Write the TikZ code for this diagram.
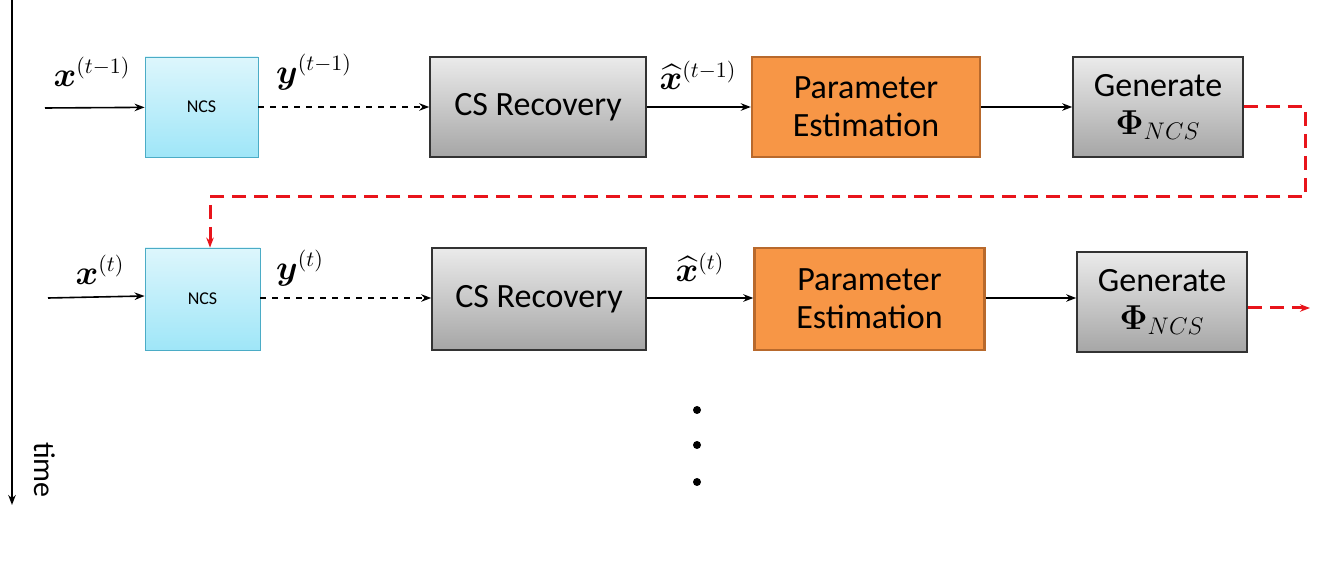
\documentclass[tikz,border=0pt]{standalone}
\usepackage{fontspec}
\setmainfont{Carlito}
\usepackage{amsmath,bm}
\usetikzlibrary{arrows.meta,positioning}
\definecolor{ncstop}{HTML}{DDF6FC}
\definecolor{ncsbot}{HTML}{9FE6F8}
\definecolor{ncsline}{HTML}{4BACC6}
\definecolor{pefill}{HTML}{F79646}
\definecolor{peline}{HTML}{B8692C}
\definecolor{redline}{HTML}{E8141B}
\tikzset{
  ncs/.style={draw=ncsline, top color=ncstop, bottom color=ncsbot, minimum width=57pt, minimum height=50pt, font=\small},
  grey/.style={draw=black!80, top color=black!8, bottom color=black!35, thick, align=center, font=\fontsize{17}{19}\selectfont},
  pe/.style={draw=peline, fill=pefill, very thick, align=center, font=\fontsize{17}{19}\selectfont},
  lbl/.style={font=\fontsize{16}{18}\selectfont, inner sep=1pt},
  flow/.style={-{Stealth[length=5pt]}, thick},
  dflow/.style={flow, dashed},
  loop/.style={-{Stealth[length=5pt]}, redline, line width=1.5pt, dash pattern=on 7pt off 4pt}
}
\begin{document}
\begin{tikzpicture}[x=0.5pt,y=-0.5pt]
\useasboundingbox (0,0) rectangle (1329,571);
% time axis
\coordinate (t0) at (12,0);
\coordinate (t1) at (12,505);
\draw[flow] (t0) -- (t1);
\node[rotate=-90, font=\fontsize{15}{17}\selectfont] (time) at (45,470) {time};
% row t-1
\coordinate (in1) at (45,108);
\node[ncs, minimum width=56.5pt] (ncs1) at (201.5,107) {NCS};
\node[grey, minimum width=108pt, minimum height=50pt] (cs1) at (538,107) {CS Recovery};
\node[pe, minimum width=114pt, minimum height=50pt] (pe1) at (866,107) {Parameter\\Estimation};
\node[grey, minimum width=85pt, minimum height=50pt] (gen1) at (1158,107) {Generate\\$\bm{\Phi}_{NCS}$};
\draw[flow] (in1) -- (ncs1);
\draw[dflow] (ncs1) -- (cs1);
\draw[flow] (cs1) -- (pe1);
\draw[flow] (pe1) -- (gen1);
\node[lbl] (x1) at (92,72) {$\bm{x}^{(t-1)}$};
\node[lbl] (y1) at (314,72) {$\bm{y}^{(t-1)}$};
\node[lbl, anchor=south] (xh1) at (698,92) {$\widehat{\bm{x}}^{(t-1)}$};
% row t
\coordinate (in2) at (48,298);
\node[ncs, minimum width=57.5pt, minimum height=51pt] (ncs2) at (202.5,299) {NCS};
\node[grey, minimum width=107pt, minimum height=51pt] (cs2) at (539,299) {CS Recovery};
\node[pe, minimum width=115pt, minimum height=51pt] (pe2) at (869.5,299) {Parameter\\Estimation};
\node[grey, minimum width=85pt, minimum height=50pt] (gen2) at (1162,302) {Generate\\$\bm{\Phi}_{NCS}$};
\draw[flow] (in2) -- (ncs2.west |- 0,296);
\draw[dflow] (ncs2.east |- 0,298) -- (cs2.west |- 0,298);
\draw[flow] (cs2.east |- 0,298) -- (pe2.west |- 0,298);
\draw[flow] (pe2.east |- 0,298) -- (gen2.west |- 0,298);
\node[lbl] (x2) at (100,270) {$\bm{x}^{(t)}$};
\node[lbl] (y2) at (300,268) {$\bm{y}^{(t)}$};
\node[lbl, anchor=south] (xh2) at (700,284) {$\widehat{\bm{x}}^{(t)}$};
% feedback
\coordinate (c1) at (1305,107);
\coordinate (c2) at (1305,197);
\coordinate (c3) at (210,197);
\coordinate (out2) at (1310,308);
\draw[loop] (gen1.east) -- (c1) -- (c2) -- (c3) -- (c3 |- ncs2.north);
\draw[loop] (gen2.east |- out2) -- (out2);
% dots
\foreach \yy in {410,445,482}
  \fill (697,\yy) circle (2pt);
\end{tikzpicture}
\end{document}
